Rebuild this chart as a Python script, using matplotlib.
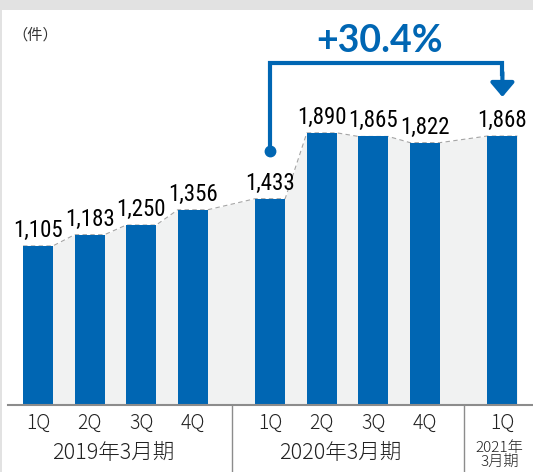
import numpy as np
import matplotlib.pyplot as plt

# data
quarters = ['1Q', '2Q', '3Q', '4Q', '1Q', '2Q', '3Q', '4Q', '1Q']
values = [1105, 1183, 1250, 1356, 1433, 1890, 1865, 1822, 1868]
positions = [0, 1, 2, 3, 4.5, 5.5, 6.5, 7.5, 9]
groups = ['2019年3月期', '2020年3月期', '2021年\n3月期']
group_x = [1.45, 5.85, 8.95]
growth = '+30.4%'

blue = '#0066b3'
fill_gray = '#f1f2f2'
line_gray = '#8c8c8c'
bar_w = 0.58

plt.rcParams['font.family'] = ['Noto Sans CJK JP', 'DejaVu Sans']

fig = plt.figure(figsize=(5.33, 4.72), dpi=100, facecolor='#e2e2e2')
ax = fig.add_axes([2 / 533, 0, 531 / 533, 462 / 472])
ax.set_facecolor('white')
ax.set_xlim(-0.698, 9.593)
ax.set_ylim(-465, 2743)
for s in ax.spines.values():
    s.set_visible(False)
ax.set_xticks([])
ax.set_yticks([])

# gray band connecting bar tops
xs, ys = [], []
for p, v in zip(positions, values):
    xs += [p - bar_w / 2, p + bar_w / 2]
    ys += [v, v]
ax.fill_between(xs, 0, ys, color=fill_gray, zorder=1, lw=0)
ax.plot(xs, ys, color='#a5a5a5', lw=0.8, ls=(0, (4, 3)), zorder=1.5)

ax.bar(positions, values, width=bar_w, color=blue, zorder=2)

for p, v in zip(positions, values):
    ax.annotate(f'{v:,}', (p, v), xytext=(0, 3), textcoords='offset points',
                ha='center', va='bottom', fontsize=16.5,
                family=['Roboto Condensed', 'Roboto'], weight='normal',
                color='black')

# axis line and separators
ax.axhline(0, xmin=6 / 531, xmax=1, color=line_gray, lw=1.5, zorder=3)
for sx in [3.75, 8.25]:
    ax.plot([sx, sx], [0, -465], color=line_gray, lw=1, zorder=3)

for p, q in zip(positions, quarters):
    ax.text(p, -125, q, ha='center', va='center', fontsize=14, weight='light',
            color='#222222')
for gx, g in zip(group_x, groups):
    if '\n' in g:
        ax.text(gx, -345, g, ha='center', va='center', fontsize=11,
                weight='light', color='#222222', linespacing=0.95)
    else:
        ax.text(gx, -333, g, ha='center', va='center', fontsize=15.5,
                weight='light', color='#222222')

ax.text(-0.06, 2569, '（件）', ha='center', va='center', fontsize=11,
        color='#333333')

# growth bracket
y_top = 2375
ax.plot([4.5, 4.5, 9, 9], [values[4] + 330, y_top, y_top, 2300],
        color=blue, lw=3, solid_joinstyle='miter', zorder=4)
ax.plot(4.5, values[4] + 330, 'o', color=blue, ms=7.5, zorder=4)
ax.annotate('', xy=(9, 2139), xytext=(9, 2310),
            arrowprops=dict(arrowstyle='-|>,head_length=0.85,head_width=0.72',
                            lw=3, color=blue, shrinkA=0, shrinkB=0))
ax.text(6.61, 2451, growth, ha='center', va='baseline', fontsize=27,
        family=['Lato', 'DejaVu Sans'], weight='bold', color=blue)

fig.savefig('out.png', dpi=100, facecolor=fig.get_facecolor())
